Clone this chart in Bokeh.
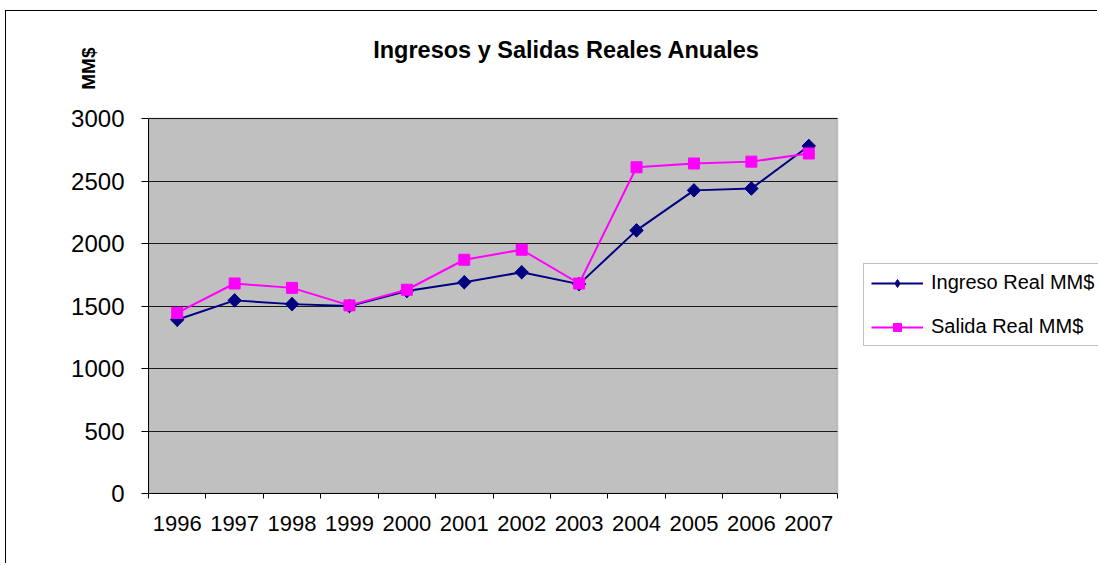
import math
from bokeh.plotting import figure
from bokeh.models import (Range1d, FixedTicker, Legend, LegendItem, Title,
                          Label, BoxAnnotation)
from bokeh.embed import file_html
from bokeh.resources import INLINE

# ---- data ----
years = [1996, 1997, 1998, 1999, 2000, 2001, 2002, 2003, 2004, 2005, 2006, 2007]
ingreso = [1390, 1545, 1515, 1500, 1620, 1690, 1770, 1675, 2105, 2425, 2440, 2780]
salida = [1445, 1680, 1645, 1505, 1630, 1870, 1950, 1680, 2610, 2640, 2655, 2720]
y_ticks = [0, 500, 1000, 1500, 2000, 2500, 3000]
title_text = "Ingresos y Salidas Reales Anuales"
y_label = "MM$"
name_ingreso = "Ingreso Real MM$"
name_salida = "Salida Real MM$"

FONT = "Liberation Sans"

# ---- layout (pixels) ----
W, H = 1092, 553
LEFT, BOTTOM = 142, 71           # space for the axes
AREA_W, AREA_H = 689, 375        # grey plot area size
FRAME_W, FRAME_H = W - LEFT, H - BOTTOM
x0, x1 = years[0] - 0.5, years[-1] + 0.5
y0, y1 = y_ticks[0], y_ticks[-1]
x_end = x0 + FRAME_W * (x1 - x0) / AREA_W
y_end = y0 + FRAME_H * (y1 - y0) / AREA_H

p = figure(width=W, height=H, output_backend="svg", toolbar_location=None,
           title=None,
           x_range=Range1d(x0, x_end), y_range=Range1d(y0, y_end),
           min_border_left=LEFT, min_border_right=0,
           min_border_top=0, min_border_bottom=BOTTOM)
p.styles = {"border-left": "1px solid black", "border-top": "1px solid black",
            "margin-left": "5px", "margin-top": "10px"}

p.background_fill_color = "white"
p.border_fill_color = "white"
p.outline_line_color = None

# grey plot area
p.add_layout(BoxAnnotation(left=x0, right=x1, bottom=y0, top=y1,
                           fill_color="#C0C0C0", fill_alpha=1,
                           line_color="#808080", line_width=2, level="image"))

# grid
p.xgrid.grid_line_color = None
g = p.ygrid[0]
g.ticker = FixedTicker(ticks=y_ticks)
if "cross_bounds" in g.properties():
    g.cross_bounds = (x0, x1)
    g.grid_line_color = "#1a1a1a"
    g.grid_line_width = 1
else:
    g.grid_line_color = None
    p.segment(x0=[x0] * len(y_ticks), x1=[x1] * len(y_ticks),
              y0=y_ticks, y1=y_ticks, line_color="#1a1a1a", line_width=1,
              level="underlay")

# y axis
ya = p.yaxis[0]
ya.bounds = (y0, y1)
ya.ticker = FixedTicker(ticks=y_ticks)
ya.axis_line_color = "black"
ya.major_tick_line_color = "black"
ya.major_tick_out = 7
ya.major_tick_in = 0
ya.minor_tick_line_color = None
ya.major_label_standoff = 17
ya.major_label_text_font = FONT
ya.major_label_text_font_size = "24px"
ya.major_label_text_color = "black"

# x axis: labels at year centers, ticks at category boundaries
xa = p.xaxis[0]
xa.bounds = (x0, x1)
bounds = [y - 0.5 for y in years] + [x1]
xa.ticker = FixedTicker(ticks=years, minor_ticks=bounds)
xa.axis_line_color = "black"
xa.major_tick_line_color = None
xa.major_tick_out = 0
xa.major_tick_in = 0
xa.minor_tick_line_color = "black"
xa.minor_tick_out = 5
xa.minor_tick_in = 0
xa.major_label_standoff = 17
xa.major_label_text_font = FONT
xa.major_label_text_font_size = "22px"
xa.major_label_text_color = "black"

# series
l1 = p.line(years, ingreso, line_color="#000080", line_width=2)
d1 = p.scatter(years, ingreso, marker="diamond", size=13,
               fill_color="#000080", line_color="#000080")
m1 = p.scatter(years, ingreso, marker="square", angle=math.pi / 4, size=9.5,
               fill_color="#000080", line_color="#000080")
l2 = p.line(years, salida, line_color="#FF00FF", line_width=2)
m2 = p.scatter(years, salida, marker="square", size=11,
               fill_color="#FF00FF", line_color="#FF00FF")

legend = Legend(items=[LegendItem(label=name_ingreso, renderers=[l1, d1]),
                       LegendItem(label=name_salida, renderers=[l2, m2])],
                location=(715, 147))
legend.glyph_width = 52
legend.glyph_height = 20
legend.label_height = 20
legend.label_standoff = 8
legend.spacing = 21
legend.padding = 7
legend.margin = 0
legend.label_text_font = FONT
legend.label_text_font_size = "20px"
legend.label_text_color = "black"
legend.border_line_color = "#808080"
legend.border_line_width = 1.5
legend.background_fill_color = "white"
legend.background_fill_alpha = 1
p.add_layout(legend, "center")

# title and y label
p.add_layout(Label(x=418, y=444, x_units="screen", y_units="screen",
                   text=title_text, text_font=FONT, text_font_size="23.5px",
                   text_font_style="bold", text_align="center",
                   text_baseline="middle", text_color="black"))
p.add_layout(Title(text=y_label, align="right", offset=36, standoff=-60,
                   text_font=FONT, text_font_size="19px",
                   text_font_style="bold", text_color="black"), "left")

open("out.html", "w").write(file_html(p, INLINE))
